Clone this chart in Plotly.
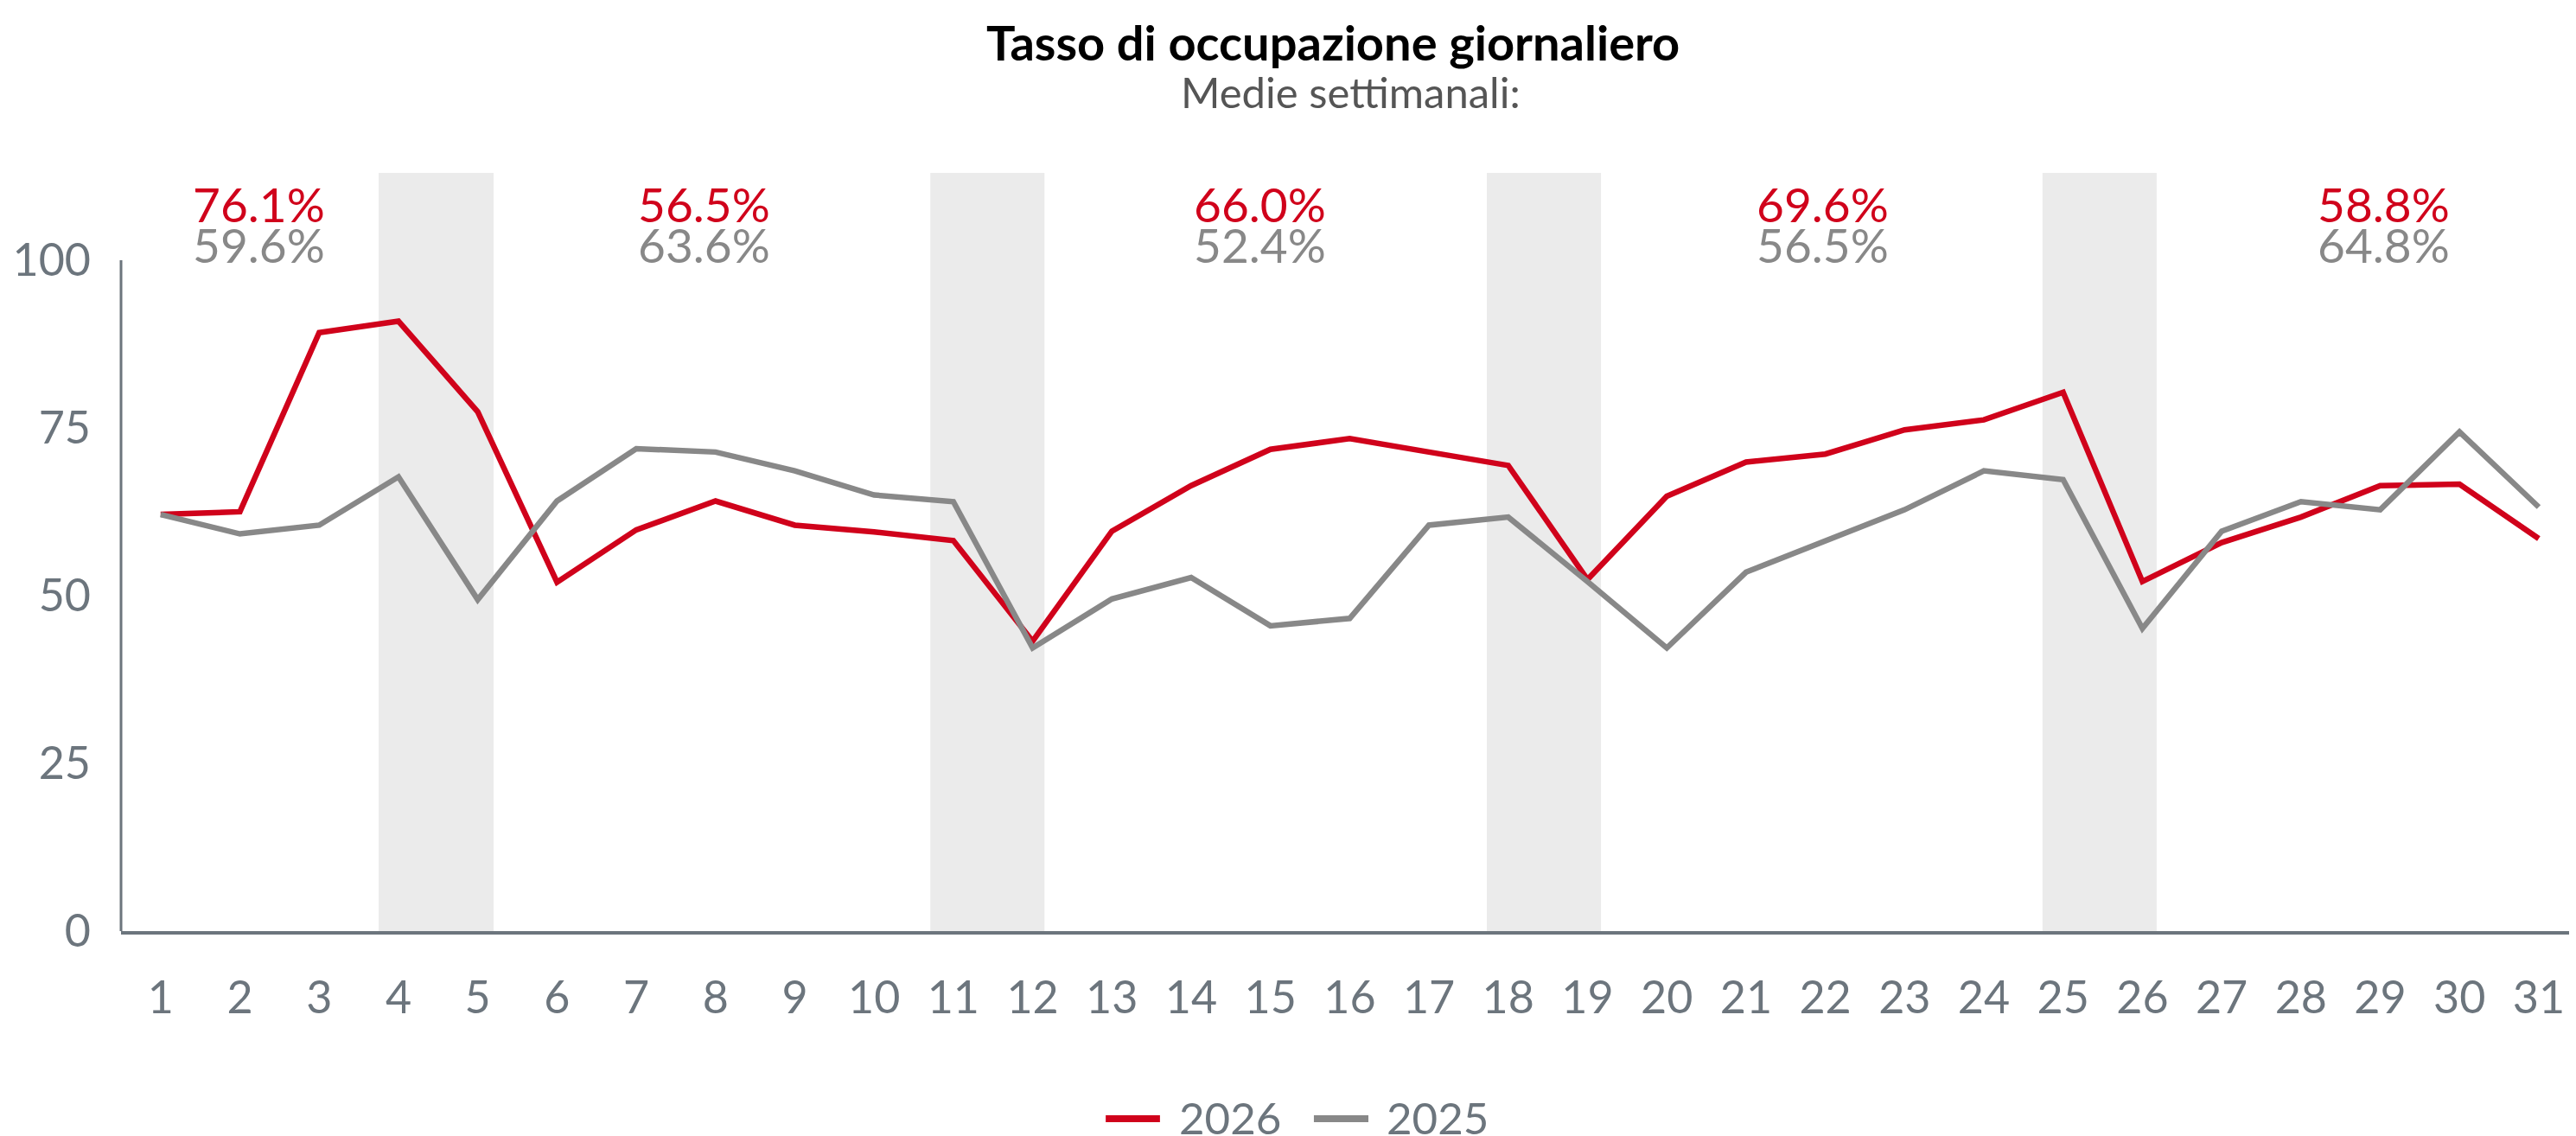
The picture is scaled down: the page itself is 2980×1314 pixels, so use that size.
import plotly.graph_objects as go

# ---------------- data ----------------
days = list(range(1, 32))
occ_2026 = [62.1, 62.5, 89.2, 90.9, 77.4, 52.0, 59.8, 64.1, 60.5, 59.5, 58.2, 43.2,
            59.6, 66.4, 71.8, 73.4, 71.4, 69.4, 52.4, 64.8, 69.9, 71.1, 74.7, 76.2,
            80.3, 52.1, 57.9, 61.7, 66.4, 66.6, 58.5]
occ_2025 = [62.1, 59.2, 60.5, 67.7, 49.4, 64.1, 71.9, 71.4, 68.6, 65.0, 64.0, 42.2,
            49.5, 52.7, 45.5, 46.6, 60.5, 61.7, 52.1, 42.2, 53.5, 58.2, 62.8, 68.6,
            67.3, 45.1, 59.6, 64.0, 62.8, 74.4, 63.2]
weekly_2026 = ["76.1%", "56.5%", "66.0%", "69.6%", "58.8%"]
weekly_2025 = ["59.6%", "63.6%", "52.4%", "56.5%", "64.8%"]
series_names = ["2026", "2025"]
y_ticks = [0, 25, 50, 75, 100]

# ---------------- positions / styles ----------------
weekly_label_x = [2.24, 7.85, 14.87, 21.97, 29.04]
band_x0 = [3.75, 10.71, 17.73, 24.74]
band_x1 = [5.20, 12.15, 19.17, 26.18]
legend_line_x = [(0.4011, 0.4232), (0.4859, 0.5081)]
legend_text_x = [0.4303, 0.5148]
legend_y = -0.2474

RED = "#D0021B"
GREY = "#888888"
AXIS = "#6C757D"
BAND = "#EBEBEB"
FONT = "Lato"
colors = [RED, GREY]

fig = go.Figure()
for name, vals, col in zip(series_names, [occ_2026, occ_2025], colors):
    fig.add_trace(go.Scatter(x=days, y=vals, mode="lines", name=name,
                             line=dict(color=col, width=6.5), showlegend=False))

shapes = []
for a, b in zip(band_x0, band_x1):
    shapes.append(dict(type="rect", xref="x", yref="paper", x0=a, x1=b, y0=0, y1=1,
                       fillcolor=BAND, line=dict(width=0), layer="below"))
# y axis line only up to 100
shapes.append(dict(type="line", xref="paper", yref="y", x0=0, x1=0, y0=0, y1=100,
                   line=dict(color=AXIS, width=3)))

annotations = [
    dict(text="<b>Tasso di occupazione giornaliero</b>", xref="paper", yref="paper",
         x=0.4937, y=1.1733, xanchor="center", yanchor="middle", showarrow=False,
         font=dict(family=FONT, size=56, color="#000000")),
    dict(text="Medie settimanali:", xref="paper", yref="paper",
         x=0.501, y=1.1072, xanchor="center", yanchor="middle", showarrow=False,
         font=dict(family=FONT, size=49, color="#555555")),
]
for xpos, t26, t25 in zip(weekly_label_x, weekly_2026, weekly_2025):
    annotations.append(dict(text=t26, x=xpos, y=108.4, xref="x", yref="y",
                            xanchor="center", yanchor="middle", showarrow=False,
                            height=48, valign="middle",
                            font=dict(family=FONT, size=55, color=RED)))
    annotations.append(dict(text=t25, x=xpos, y=102.3, xref="x", yref="y",
                            xanchor="center", yanchor="middle", showarrow=False,
                            height=48, valign="middle",
                            font=dict(family=FONT, size=55, color=GREY)))

# legend (drawn manually for long line keys)
for (lx0, lx1), tx, name, col in zip(legend_line_x, legend_text_x, series_names, colors):
    shapes.append(dict(type="line", xref="paper", yref="paper", x0=lx0, x1=lx1,
                       y0=legend_y, y1=legend_y, line=dict(color=col, width=8)))
    annotations.append(dict(text=name, xref="paper", yref="paper", x=tx, y=legend_y + 0.002,
                            xanchor="left", yanchor="middle", showarrow=False,
                            height=42, valign="middle",
                            font=dict(family=FONT, size=51, color=AXIS)))

fig.update_layout(
    width=2972, height=1306,
    margin=dict(l=132, r=0, t=192, b=237),
    paper_bgcolor="white", plot_bgcolor="white",
    font=dict(family=FONT, color=AXIS, size=52),
    shapes=shapes, annotations=annotations,
    showlegend=False,
    xaxis=dict(range=[0.5, 31.47], tickmode="array", tickvals=days,
               ticktext=[str(d) for d in days], showgrid=False, zeroline=False,
               showline=True, linecolor=AXIS, linewidth=4, ticks="",
               ticklabelstandoff=29,
               tickfont=dict(family=FONT, size=52, color=AXIS)),
    yaxis=dict(range=[0, 113.0], tickmode="array", tickvals=y_ticks,
               showgrid=False, zeroline=False, showline=False, ticks="",
               ticklabelstandoff=34,
               tickfont=dict(family=FONT, size=52, color=AXIS)),
)

fig.write_html("out.html")
